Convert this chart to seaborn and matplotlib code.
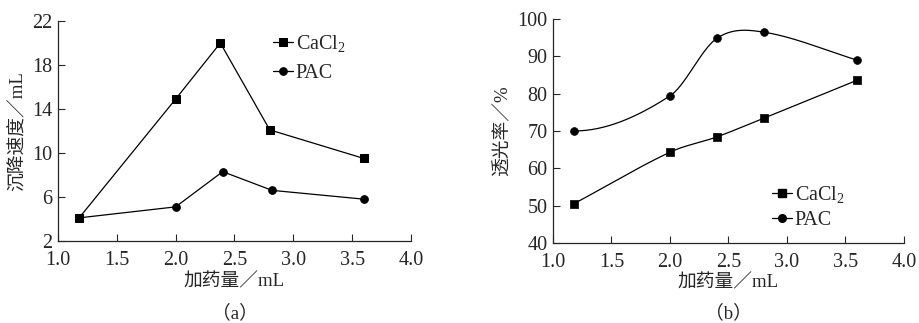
import numpy as np
import matplotlib
matplotlib.use("Agg")
import matplotlib.pyplot as plt
import seaborn as sns
from matplotlib.lines import Line2D

# ---- data ----
dose_a_cacl2 = [1.18, 2.0, 2.38, 2.8, 3.6]
settle_cacl2 = [4.1, 14.9, 20.0, 12.1, 9.5]
dose_a_pac = [1.18, 2.0, 2.4, 2.82, 3.6]
settle_pac = [4.1, 5.1, 8.3, 6.6, 5.8]

dose_b = [1.18, 2.0, 2.4, 2.8, 3.6]
trans_cacl2 = [50.5, 64.3, 68.4, 73.4, 83.6]
trans_pac = [70.0, 79.4, 94.8, 96.5, 89.0]

x_ticks = [1.0, 1.5, 2.0, 2.5, 3.0, 3.5, 4.0]
y_ticks_a = [2, 6, 10, 14, 18, 22]
y_ticks_b = [40, 50, 60, 70, 80, 90, 100]

LBL_CACL2 = "CaCl$_2$"
LBL_PAC = "PAC"


def smooth(x, y, start_slope=None, n=200):
    # cubic hermite through the data points (drawing only)
    x = np.asarray(x, float)
    y = np.asarray(y, float)
    m = np.zeros_like(y)
    m[1:-1] = (y[2:] - y[:-2]) / (x[2:] - x[:-2])
    m[0] = (y[1] - y[0]) / (x[1] - x[0]) if start_slope is None else start_slope
    m[-1] = (y[-1] - y[-2]) / (x[-1] - x[-2])
    xs, ys = [], []
    for i in range(len(x) - 1):
        h = x[i + 1] - x[i]
        t = np.linspace(0, 1, n // (len(x) - 1))
        h00 = 2 * t**3 - 3 * t**2 + 1
        h10 = t**3 - 2 * t**2 + t
        h01 = -2 * t**3 + 3 * t**2
        h11 = t**3 - t**2
        xs.append(x[i] + t * h)
        ys.append(h00 * y[i] + h10 * h * m[i] + h01 * y[i + 1] + h11 * h * m[i + 1])
    return np.concatenate(xs), np.concatenate(ys)


sns.set_style("ticks")
plt.rcParams["font.family"] = ["Liberation Serif", "Noto Sans CJK SC"]
plt.rcParams["mathtext.fontset"] = "custom"
plt.rcParams["mathtext.rm"] = "Liberation Serif"
plt.rcParams["mathtext.it"] = "Liberation Serif:italic"
plt.rcParams["xtick.direction"] = "in"
plt.rcParams["ytick.direction"] = "in"

fig = plt.figure(figsize=(9.2, 3.23), dpi=100)
ax1 = fig.add_axes([0.063, 0.254, 0.3837, 0.681])
ax2 = fig.add_axes([0.601, 0.248, 0.3815, 0.693])

FS = 14.5
FS_LBL = 13.5
lw = 0.9

# (a)
sns.lineplot(x=dose_a_cacl2, y=settle_cacl2, ax=ax1, color="black", lw=lw,
             marker="s", markersize=6, markeredgecolor="black", label=LBL_CACL2)
sns.lineplot(x=dose_a_pac, y=settle_pac, ax=ax1, color="black", lw=lw,
             marker="o", markersize=5.5, markeredgecolor="black", label=LBL_PAC)
ax1.set_ylim(2, 22)
ax1.set_yticks(y_ticks_a)
ax1.set_ylabel("沉降速度／mL", fontsize=FS_LBL, labelpad=4)
ax1.legend(loc="upper left", bbox_to_anchor=(0.585, 0.98), frameon=False,
           fontsize=FS, handlelength=1.0, handletextpad=0.15, labelspacing=0.45,
           borderaxespad=0)

# (b)
sx, sy = smooth(dose_b, trans_cacl2)
sns.lineplot(x=sx, y=sy, ax=ax2, color="black", lw=lw, sort=False)
sx, sy = smooth(dose_b, trans_pac, start_slope=0.0)
sns.lineplot(x=sx, y=sy, ax=ax2, color="black", lw=lw, sort=False)
sns.scatterplot(x=dose_b, y=trans_cacl2, ax=ax2, marker="s", s=40,
                color="black", edgecolor="black", zorder=3)
sns.scatterplot(x=dose_b, y=trans_pac, ax=ax2, marker="o", s=32,
                color="black", edgecolor="black", zorder=3)
ax2.set_ylim(40, 100)
ax2.set_yticks(y_ticks_b)
ax2.set_ylabel("透光率／%", fontsize=FS_LBL, labelpad=4)
handles = [Line2D([], [], color="black", lw=lw, marker="s", markersize=6),
           Line2D([], [], color="black", lw=lw, marker="o", markersize=5.5)]
ax2.legend(handles, [LBL_CACL2, LBL_PAC], loc="upper left",
           bbox_to_anchor=(0.6, 0.3), frameon=False, fontsize=FS,
           handlelength=1.0, handletextpad=0.15, labelspacing=0.3,
           borderaxespad=0)

for ax in (ax1, ax2):
    ax.set_xlim(1.0, 4.0)
    ax.set_xticks(x_ticks)
    ax.set_xticklabels([f"{v:.1f}" for v in x_ticks])
    ax.set_xlabel("加药量／mL", fontsize=FS_LBL, labelpad=2)
    ax.tick_params(labelsize=FS, length=5, width=0.8)
    ax.tick_params(axis="x", pad=7)
    ax.tick_params(axis="y", pad=4)
    for s in ("left", "bottom"):
        ax.spines[s].set_linewidth(0.9)
    sns.despine(ax=ax)

fig.text(0.255, 0.015, "（a）", ha="center", fontsize=FS_LBL)
fig.text(0.792, 0.015, "（b）", ha="center", fontsize=FS_LBL)

fig.savefig("out.png", dpi=100)
